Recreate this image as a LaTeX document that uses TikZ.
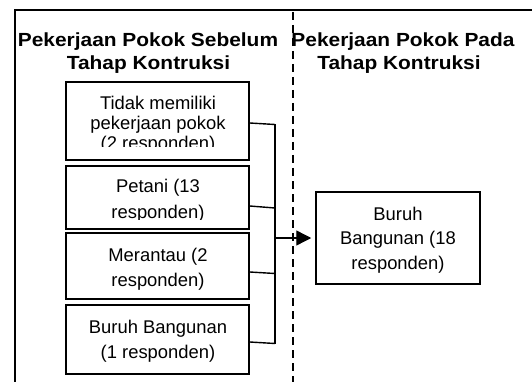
\documentclass[tikz,border=0pt]{standalone}
\usepackage{fontspec}
\setmainfont{Liberation Sans}
\newfontfamily\hdrfont[FakeStretch=1.1]{Liberation Sans Bold}
\usetikzlibrary{arrows.meta}
\tikzset{
  frameline/.style={line width=1.4pt, black},
  divider/.style={line width=1.3pt, dash pattern=on 8pt off 5pt},
  box/.style={draw, line width=1.5pt, inner sep=0pt},
  hdr/.style={anchor=base, align=center, font=\hdrfont\fontsize{19}{23}\selectfont},
  boxtxt/.style={anchor=base, align=center, inner sep=0pt, font=\fontsize{18.4}{25}\selectfont},
  link/.style={line width=1.4pt},
  arr/.style={line width=1.4pt, -{Triangle[length=15pt,width=15pt]}}
}
\begin{document}
\begin{tikzpicture}[x=1pt,y=-1pt]
\useasboundingbox (0,0) rectangle (532,382);
\clip (0,0) rectangle (532,382);
\fill[white] (0,0) rectangle (532,382);
% outer frame
\draw[frameline] (15,400) -- (15,10) -- (560,10);
% divider
\draw[divider] (293,12) -- (293,392);
% headers
\node[hdr] (h1) at (148,47) {Pekerjaan Pokok Sebelum};
\node[hdr] (h1b) at (148.5,70) {Tahap Kontruksi};
\node[hdr] (h2) at (403,47) {Pekerjaan Pokok Pada};
\node[hdr] (h2b) at (399,70) {Tahap Kontruksi};
% left boxes
\node[box, minimum width=183pt, minimum height=78pt] (b1) at (157.5,121) {};
\node[box, minimum width=183pt, minimum height=63pt] (b2) at (157.5,197.5) {};
\node[box, minimum width=183pt, minimum height=66pt] (b3) at (157.5,266) {};
\node[box, minimum width=183pt, minimum height=69pt] (b4) at (157.5,339.5) {};
% right box
\node[box, minimum width=164pt, minimum height=92pt] (rb) at (398,238) {};
% box texts (clipped like the original); anchor=base is the last line
\begin{scope}
\clip (67,83) rectangle (248,147);
\node[boxtxt, font=\fontsize{18.4}{20}\selectfont] (t1) at (158,149.7) {Tidak memiliki\\pekerjaan pokok\\(2 responden)};
\end{scope}
\begin{scope}
\clip (67,167) rectangle (248,219);
\node[boxtxt] (t2) at (158,218) {Petani (13\\responden)};
\end{scope}
\node[boxtxt] (t3) at (158,286.7) {Merantau (2\\responden)};
\node[boxtxt] (t4) at (158,358) {Buruh Bangunan\\(1 responden)};
\node[boxtxt, font=\fontsize{18.4}{24.5}\selectfont] (t5) at (398,269) {Buruh\\Bangunan (18\\responden)};
% connectors
\coordinate (j1) at (275,124.5);
\coordinate (j2) at (275,208);
\coordinate (j3) at (275,273.5);
\coordinate (j4) at (275,343.5);
\coordinate (jm) at (275,238);
\draw[link] ([yshift=-2pt]b1.east) -- (j1);
\draw[link] ([yshift=-8.5pt]b2.east) -- (j2);
\draw[link] ([yshift=-6pt]b3.east) -- (j3);
\draw[link] ([yshift=-2.5pt]b4.east) -- (j4);
\draw[link, line cap=rect] (j1) -- (j4);
\draw[arr] (jm) -- ([xshift=-4pt]rb.west);
\end{tikzpicture}
\end{document}
